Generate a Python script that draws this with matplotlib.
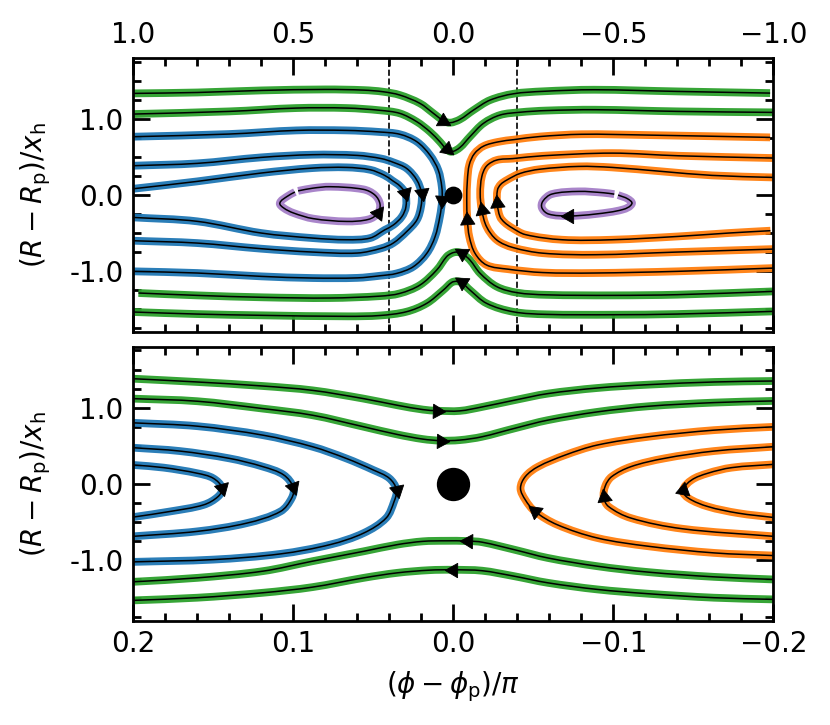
import numpy as np
import matplotlib
matplotlib.use("Agg")
import matplotlib.pyplot as plt
from matplotlib.path import Path
from matplotlib.patches import PathPatch
from matplotlib.ticker import MultipleLocator, FixedLocator, FixedFormatter

# ---------------- data ----------------
top_xlim = [1.0, -1.0]
zoom_window = [0.2, -0.2]          # bottom panel range / dashed lines in top panel
y_range = [-1.8, 1.8]
ytick_vals = [-1.0, 0.0, 1.0]
ytick_labels = ['-1.0', '0.0', '1.0']
top_xticks = [1.0, 0.5, 0.0, -0.5, -1.0]
bot_xticks = [0.2, 0.1, 0.0, -0.1, -0.2]
planet_phi, planet_y = 0.0, 0.0

# top panel (full azimuth) streamlines, ordered along the flow
top_g1_phi = [1.0, 0.8, 0.6, 0.4, 0.28, 0.22, 0.167, 0.104, 0.062, 0.031, 0.010, -0.021, -0.063, -0.115, -0.188, -0.28, -0.44, -0.7, -0.99]
top_g1_y = [1.338, 1.35, 1.377, 1.39, 1.381, 1.36, 1.316, 1.206, 1.075, 0.978, 0.952, 0.996, 1.118, 1.25, 1.333, 1.365, 1.386, 1.364, 1.342]
top_g2_phi = [1.0, 0.7, 0.49, 0.333, 0.229, 0.167, 0.114, 0.073, 0.042, 0.021, 0.005, -0.021, -0.052, -0.094, -0.146, -0.209, -0.29, -0.444, -0.704, -1.0]
top_g2_y = [1.066, 1.101, 1.145, 1.145, 1.115, 1.075, 0.965, 0.833, 0.702, 0.601, 0.570, 0.627, 0.768, 0.943, 1.053, 1.09, 1.112, 1.123, 1.101, 1.088]
top_g3_phi = [-1.0, -0.7, -0.5, -0.29, -0.2, -0.136, -0.084, -0.052, -0.026, -0.010, 0.005, 0.021, 0.052, 0.104, 0.167, 0.229, 0.385, 0.594, 0.802, 0.984]
top_g3_y = [-1.268, -1.311, -1.320, -1.313, -1.285, -1.206, -1.031, -0.855, -0.765, -0.75, -0.765, -0.811, -0.987, -1.184, -1.294, -1.33, -1.355, -1.346, -1.320, -1.289]
top_g4_phi = [-1.0, -0.7, -0.5, -0.29, -0.188, -0.104, -0.052, -0.026, -0.010, 0.005, 0.031, 0.083, 0.146, 0.229, 0.33, 0.594, 0.802, 1.0]
top_g4_y = [-1.531, -1.566, -1.575, -1.57, -1.537, -1.425, -1.250, -1.15, -1.135, -1.15, -1.250, -1.425, -1.535, -1.585, -1.596, -1.583, -1.566, -1.539]
top_b1_phi = [1.0, 0.7, 0.49, 0.333, 0.23, 0.167, 0.114, 0.073, 0.047, 0.036, 0.035, 0.042, 0.057, 0.083, 0.125, 0.177, 0.229, 0.3, 0.44, 0.6, 0.8, 1.0]
top_b1_y = [0.768, 0.803, 0.851, 0.851, 0.83, 0.80, 0.702, 0.526, 0.329, 0.110, -0.066, -0.285, -0.548, -0.768, -0.943, -1.031, -1.062, -1.09, -1.092, -1.07, -1.026, -1.004]
top_b2_phi = [1.0, 0.8, 0.6, 0.44, 0.3, 0.225, 0.187, 0.146, 0.114, 0.099, 0.101, 0.114, 0.146, 0.187, 0.225, 0.3, 0.44, 0.6, 0.8, 1.0]
top_b2_y = [0.386, 0.417, 0.496, 0.531, 0.522, 0.48, 0.43, 0.351, 0.197, 0.022, -0.154, -0.329, -0.482, -0.63, -0.70, -0.763, -0.75, -0.706, -0.632, -0.601]
top_b3_phi = [1.0, 0.8, 0.6, 0.44, 0.333, 0.26, 0.215, 0.19, 0.167, 0.150, 0.148, 0.161, 0.187, 0.215, 0.26, 0.333, 0.44, 0.6, 0.8, 1.0]
top_b3_y = [0.083, 0.180, 0.290, 0.355, 0.364, 0.333, 0.26, 0.19, 0.12, 0.022, -0.154, -0.285, -0.393, -0.46, -0.566, -0.588, -0.566, -0.5, -0.346, -0.294]
top_o1_phi = [-1.0, -0.7, -0.44, -0.28, -0.17, -0.104, -0.068, -0.050, -0.044, -0.042, -0.044, -0.050, -0.066, -0.095, -0.14, -0.19, -0.27, -0.4, -0.6, -0.99]
top_o1_y = [-0.961, -1.004, -1.026, -1.02, -0.975, -0.921, -0.768, -0.548, -0.329, -0.066, 0.197, 0.40, 0.545, 0.645, 0.70, 0.73, 0.77, 0.80, 0.79, 0.759]
top_o2_phi = [-1.0, -0.7, -0.444, -0.28, -0.186, -0.136, -0.104, -0.089, -0.084, -0.089, -0.104, -0.136, -0.186, -0.28, -0.496, -0.704, -1.0]
top_o2_y = [-0.711, -0.750, -0.785, -0.765, -0.69, -0.592, -0.417, -0.198, 0.022, 0.241, 0.382, 0.461, 0.48, 0.517, 0.552, 0.517, 0.487]
top_o3_phi = [-0.991, -0.86, -0.704, -0.496, -0.34, -0.225, -0.183, -0.16, -0.146, -0.137, -0.138, -0.148, -0.167, -0.209, -0.27, -0.392, -0.496, -0.652, -0.808, -1.0]
top_o3_y = [-0.469, -0.5, -0.544, -0.588, -0.588, -0.52, -0.43, -0.36, -0.285, -0.110, 0.066, 0.14, 0.197, 0.285, 0.34, 0.377, 0.364, 0.311, 0.259, 0.232]
top_p1_phi = [0.495, 0.52, 0.542, 0.53, 0.50, 0.438, 0.333, 0.265, 0.236, 0.229, 0.245, 0.281, 0.385, 0.44, 0.485]
top_p1_y = [0.04, -0.02, -0.105, -0.17, -0.235, -0.31, -0.347, -0.32, -0.24, -0.12, 0.0, 0.075, 0.11, 0.09, 0.055]
top_p2_phi = [-0.515, -0.545, -0.558, -0.53, -0.444, -0.36, -0.298, -0.277, -0.28, -0.308, -0.392, -0.47, -0.503]
top_p2_y = [0.0, -0.05, -0.114, -0.19, -0.25, -0.275, -0.25, -0.17, -0.08, 0.013, 0.048, 0.03, 0.012]

# bottom panel (zoom) streamlines
bot_g1_phi = [0.2, 0.16, 0.119, 0.088, 0.056, 0.035, 0.019, 0.010, -0.004, -0.018, -0.038, -0.059, -0.090, -0.122, -0.163, -0.2]
bot_g1_y = [1.379, 1.336, 1.283, 1.226, 1.117, 1.030, 0.973, 0.958, 0.956, 1.008, 1.096, 1.183, 1.257, 1.301, 1.336, 1.349]
bot_g2_phi = [0.2, 0.16, 0.119, 0.088, 0.056, 0.035, 0.019, 0.008, -0.004, -0.018, -0.038, -0.059, -0.090, -0.122, -0.163, -0.2]
bot_g2_y = [1.117, 1.083, 0.986, 0.899, 0.747, 0.646, 0.585, 0.565, 0.572, 0.616, 0.725, 0.834, 0.943, 1.017, 1.065, 1.087]
bot_g3_phi = [-0.2, -0.163, -0.122, -0.090, -0.059, -0.038, -0.018, -0.009, 0.005, 0.019, 0.035, 0.056, 0.088, 0.119, 0.160, 0.2]
bot_g3_y = [-1.260, -1.226, -1.164, -1.086, -0.977, -0.868, -0.77, -0.755, -0.752, -0.759, -0.802, -0.890, -1.02, -1.151, -1.239, -1.291]
bot_g4_phi = [-0.2, -0.163, -0.122, -0.090, -0.059, -0.038, -0.018, 0.0, 0.015, 0.035, 0.056, 0.088, 0.119, 0.160, 0.2]
bot_g4_y = [-1.522, -1.500, -1.448, -1.391, -1.304, -1.217, -1.145, -1.133, -1.138, -1.173, -1.239, -1.361, -1.435, -1.500, -1.535]
bot_b1_phi = [0.2, 0.16, 0.119, 0.088, 0.067, 0.050, 0.040, 0.0355, 0.037, 0.042, 0.056, 0.077, 0.108, 0.150, 0.2]
bot_b1_y = [0.799, 0.755, 0.637, 0.485, 0.332, 0.179, 0.070, -0.08, -0.235, -0.453, -0.650, -0.802, -0.924, -0.999, -1.029]
bot_b2_phi = [0.2, 0.171, 0.140, 0.119, 0.106, 0.100, 0.101, 0.108, 0.129, 0.160, 0.2]
bot_b2_y = [0.472, 0.428, 0.332, 0.223, 0.114, -0.05, -0.191, -0.366, -0.519, -0.628, -0.693]
bot_b3_phi = [0.2, 0.181, 0.160, 0.150, 0.1445, 0.147, 0.156, 0.177, 0.2]
bot_b3_y = [0.245, 0.210, 0.136, 0.070, -0.06, -0.17, -0.279, -0.366, -0.440]
bot_o1_phi = [-0.2, -0.163, -0.122, -0.090, -0.065, -0.051, -0.045, -0.042, -0.045, -0.053, -0.070, -0.090, -0.122, -0.163, -0.2]
bot_o1_y = [-0.946, -0.911, -0.824, -0.715, -0.541, -0.366, -0.213, -0.061, 0.092, 0.223, 0.376, 0.507, 0.616, 0.703, 0.746]
bot_o2_phi = [-0.2, -0.143, -0.111, -0.097, -0.094, -0.095, -0.099, -0.111, -0.132, -0.163, -0.2]
bot_o2_y = [-0.693, -0.593, -0.453, -0.301, -0.18, -0.03, 0.092, 0.223, 0.332, 0.428, 0.485]
bot_o3_phi = [-0.2, -0.178, -0.159, -0.147, -0.1435, -0.149, -0.159, -0.174, -0.2]
bot_o3_y = [-0.445, -0.388, -0.301, -0.192, -0.09, 0.048, 0.136, 0.210, 0.253]

# colour group per family
colors = {'pass': '#2ca02c', 'lead': '#1f77b4', 'trail': '#ff7f0e', 'vortex': '#9467bd'}

# (phi, y, family, index of flow arrow)
top_lines = [
    (top_g1_phi, top_g1_y, 'pass', 9), (top_g2_phi, top_g2_y, 'pass', 9),
    (top_g3_phi, top_g3_y, 'pass', 8), (top_g4_phi, top_g4_y, 'pass', 7),
    (top_b1_phi, top_b1_y, 'lead', 10), (top_b2_phi, top_b2_y, 'lead', 9),
    (top_b3_phi, top_b3_y, 'lead', 9),
    (top_o1_phi, top_o1_y, 'trail', 8), (top_o2_phi, top_o2_y, 'trail', 7),
    (top_o3_phi, top_o3_y, 'trail', 9),
    (top_p1_phi, top_p1_y, 'vortex', 8), (top_p2_phi, top_p2_y, 'vortex', 5),
]
bot_lines = [
    (bot_g1_phi, bot_g1_y, 'pass', 7), (bot_g2_phi, bot_g2_y, 'pass', 7),
    (bot_g3_phi, bot_g3_y, 'pass', 7), (bot_g4_phi, bot_g4_y, 'pass', 7),
    (bot_b1_phi, bot_b1_y, 'lead', 7), (bot_b2_phi, bot_b2_y, 'lead', 5),
    (bot_b3_phi, bot_b3_y, 'lead', 4),
    (bot_o1_phi, bot_o1_y, 'trail', 5), (bot_o2_phi, bot_o2_y, 'trail', 4),
    (bot_o3_phi, bot_o3_y, 'trail', 4),
]

# ---------------- style ----------------
plt.rcParams.update({
    'font.family': 'DejaVu Sans', 'font.size': 10,
    'mathtext.fontset': 'dejavusans',
    'axes.linewidth': 1.0,
    'xtick.direction': 'in', 'ytick.direction': 'in',
    'xtick.top': True, 'ytick.right': True,
    'xtick.major.size': 6, 'xtick.minor.size': 3,
    'ytick.major.size': 6, 'ytick.minor.size': 3,
    'xtick.major.width': 1.0, 'xtick.minor.width': 1.0,
    'ytick.major.width': 1.0, 'ytick.minor.width': 1.0,
})

fig = plt.figure(figsize=(4.15, 3.625), dpi=200)
ax1 = fig.add_axes([0.1606, 0.5423, 0.7711, 0.3773])
ax2 = fig.add_axes([0.1606, 0.1441, 0.7711, 0.3777])

ax1.set_xlim(*top_xlim)
ax2.set_xlim(*zoom_window)
for ax in (ax1, ax2):
    ax.set_ylim(*y_range)
    ax.yaxis.set_major_locator(FixedLocator(ytick_vals))
    ax.yaxis.set_major_formatter(FixedFormatter(ytick_labels))
    ax.yaxis.set_minor_locator(MultipleLocator(0.25))
    ax.set_ylabel(r'$(R-R_{\rm p})/x_{\rm h}$', labelpad=6)
    ax.tick_params(axis='both', which='both', top=True, bottom=True, left=True, right=True)

ax1.xaxis.set_major_locator(FixedLocator(top_xticks))
ax1.xaxis.set_minor_locator(MultipleLocator(0.1))
ax1.tick_params(axis='x', which='both', labeltop=True, labelbottom=False)
ax2.xaxis.set_major_locator(FixedLocator(bot_xticks))
ax2.xaxis.set_minor_locator(MultipleLocator(0.02))
ax2.tick_params(axis='x', which='both', labeltop=False, labelbottom=True)
ax2.set_xlabel(r'$(\phi-\phi_{\rm p})/\pi$')


def draw_stream(ax, phi, y, family, arrow_idx):
    pts = ax.transData.transform(np.column_stack([phi, y]))
    n = len(pts)
    tang = np.empty_like(pts)
    tang[0] = pts[1] - pts[0]
    tang[-1] = pts[-1] - pts[-2]
    tang[1:-1] = pts[2:] - pts[:-2]
    tang /= np.linalg.norm(tang, axis=1)[:, None]
    verts = [pts[0]]
    codes = [Path.MOVETO]
    for i in range(n - 1):
        L = np.linalg.norm(pts[i + 1] - pts[i])
        verts += [pts[i] + tang[i] * L / 3, pts[i + 1] - tang[i + 1] * L / 3, pts[i + 1]]
        codes += [Path.CURVE4] * 3
    verts = ax.transData.inverted().transform(np.array(verts))
    path = Path(verts, codes)
    alpha = 0.8 if family == 'vortex' else 0.95
    ax.add_patch(PathPatch(path, fill=False, edgecolor=colors[family], lw=2.8,
                           alpha=alpha, capstyle='butt', joinstyle='round', zorder=2))
    ax.add_patch(PathPatch(path, fill=False, edgecolor='k', lw=0.55,
                           capstyle='butt', joinstyle='round', zorder=3))
    ang = np.degrees(np.arctan2(tang[arrow_idx, 1], tang[arrow_idx, 0]))
    ax.plot(phi[arrow_idx], y[arrow_idx], linestyle='none', marker=(3, 0, ang - 90),
            ms=6, color='k', mec='k', mew=0.3, zorder=4)


for line in top_lines:
    draw_stream(ax1, *line)
for line in bot_lines:
    draw_stream(ax2, *line)

for xv in zoom_window:
    ax1.axvline(xv, color='k', lw=0.6, ls='--', zorder=1)

ax1.plot(planet_phi, planet_y, 'o', color='k', ms=5.4, zorder=5)
ax2.plot(planet_phi, planet_y, 'o', color='k', ms=11, zorder=5)

fig.savefig('out.png', dpi=200)
